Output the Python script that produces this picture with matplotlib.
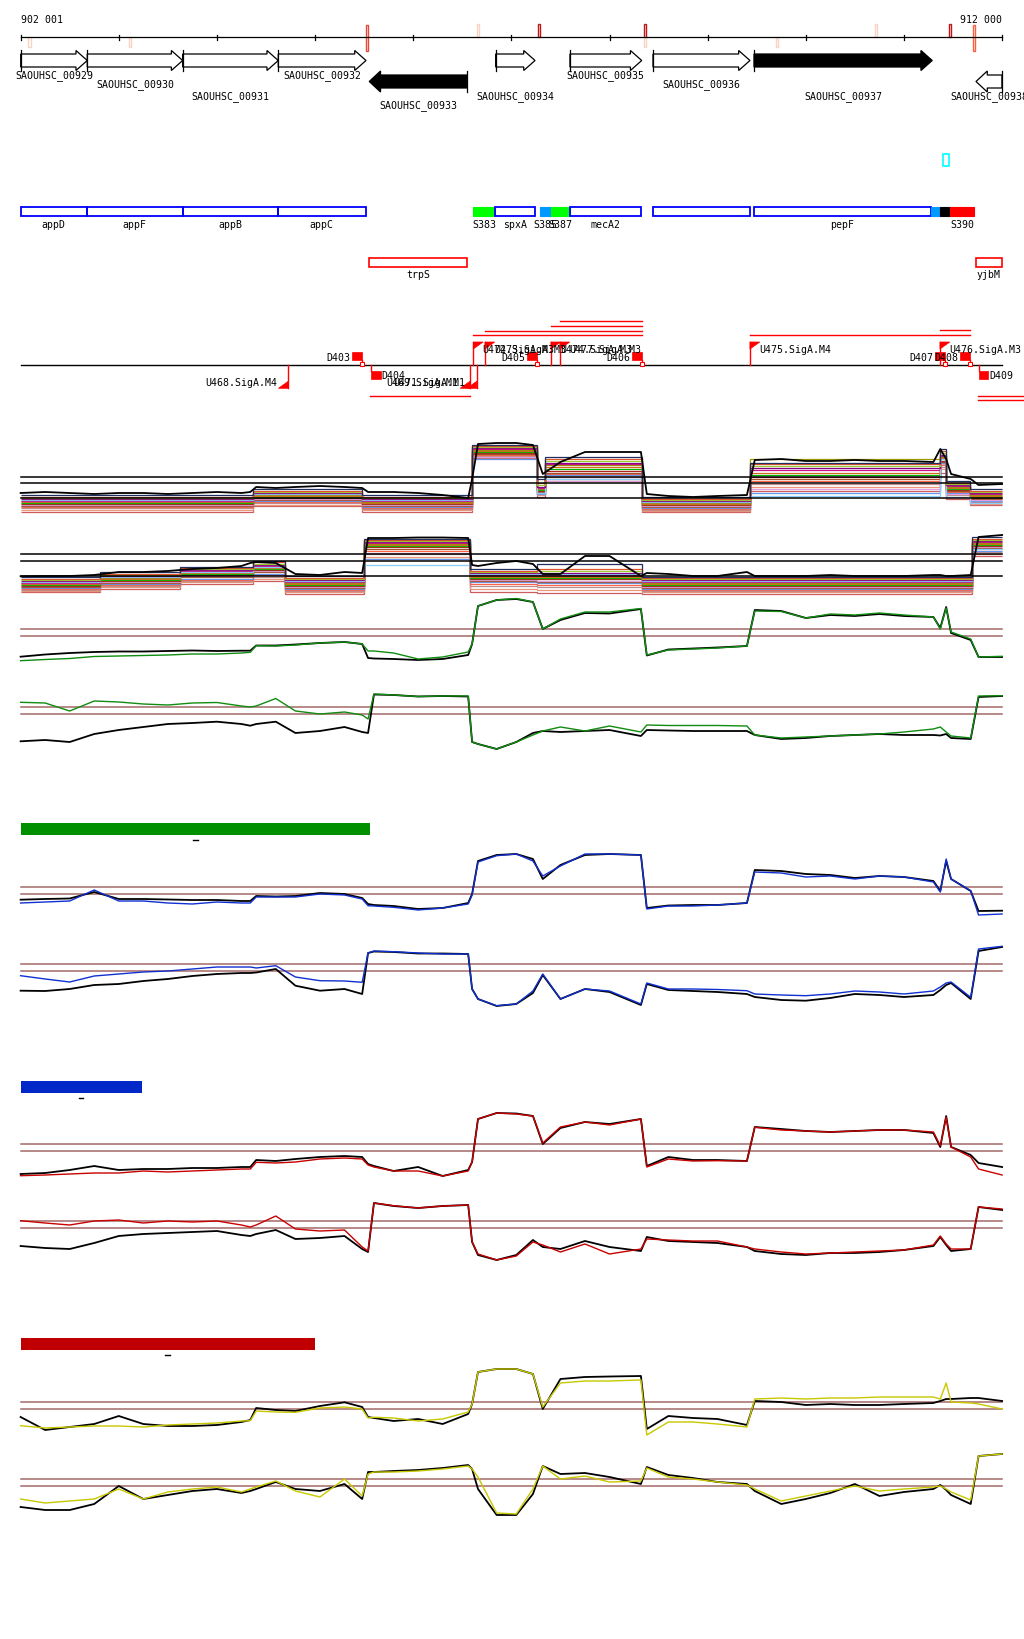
import matplotlib
matplotlib.use("Agg")
import matplotlib.pyplot as plt
from matplotlib.patches import Polygon, Rectangle

# ---------------------------------------------------------------- data
region_start, region_end = 902001, 912000
ruler_ticks = [902001] + list(range(903000, 912001, 1000))
ruler_labels = ["902 001", "912 000"]

mark_pos = [902089, 903114, 905532, 906660, 907284, 908361, 908361, 909706, 910715, 911466, 911713]
mark_side = ["below", "below", "both", "above", "above", "above", "below", "below", "above", "above", "both"]
mark_color = ["#F9D4C6", "#F9D4C6", "#E8483A", "#F9D4C6", "#C01818", "#C01818",
              "#F9D4C6", "#F9D4C6", "#F9D4C6", "#C01818", "#F86040"]

gene_names = ["SAOUHSC_00929", "SAOUHSC_00930", "SAOUHSC_00931", "SAOUHSC_00932", "SAOUHSC_00933",
              "SAOUHSC_00934", "SAOUHSC_00935", "SAOUHSC_00936", "SAOUHSC_00937", "SAOUHSC_00938"]
gene_start = [902001, 902679, 903651, 904625, 905552, 906840, 907597, 908443, 909472, 911734]
gene_end = [902679, 903651, 904625, 905519, 906545, 907241, 908328, 909431, 911288, 911998]
gene_strand = ["+", "+", "+", "+", "-", "+", "+", "+", "+", "-"]
gene_highlight = [0, 0, 0, 0, 1, 0, 0, 0, 1, 0]

cyan_site = (911397, 911459)

feat_names = ["appD", "appF", "appB", "appC", "S383", "spxA", "S385", "S387", "mecA2", "",
              "pepF", "", "", "S390"]
feat_start = [902001, 902673, 903651, 904619, 906612, 906833, 907291, 907403, 907594, 908443,
              909469, 911275, 911367, 911469]
feat_end = [902673, 903651, 904619, 905516, 906833, 907237, 907403, 907594, 908324, 909431,
            911275, 911367, 911469, 911717]
feat_kind = ["CDS", "CDS", "CDS", "CDS", "green", "CDS", "blue", "green", "CDS", "CDS",
             "CDS", "blue", "black", "red"]

anti_names = ["trpS", "yjbM"]
anti_start = [905549, 911730]
anti_end = [906545, 912001]

term_names = ["D403", "D404", "D405", "D406", "D407", "D408", "D409"]
term_pos = [905475, 905567, 907258, 908334, 911418, 911673, 911761]
term_strand = ["+", "-", "+", "+", "+", "+", "-"]

prom_names = ["U468.SigA.M4", "U469.SigA.M1", "U471.SigA.M1", "U472.SigA.M3", "U473.SigA.M3",
              "U474.SigA.M3", "U477.SigA.M3", "U475.SigA.M4", "U476.SigA.M3"]
prom_pos = [904727, 906578, 906647, 906612, 906731, 907403, 907495, 909431, 911367]
prom_strand = ["-", "-", "-", "+", "+", "+", "+", "+", "+"]

tx_start = [906612, 906731, 907403, 907495, 909431, 911367, 905560, 911754, 911754]
tx_end = [908334, 908334, 908334, 908334, 911673, 911673, 906578, 912400, 912400]

bar_start = 902000
bar_end = [905560, 903234, 904997]

# profile positions (bp)
pos = [902000, 902250, 902500, 902750, 903000, 903250, 903500, 903750, 904000, 904250,
       904340, 904400, 904600, 904800, 905050, 905300, 905480, 905540, 905600, 905800,
       906050, 906300, 906560, 906600, 906660, 906850, 907050, 907220, 907320, 907500,
       907750, 908000, 908320, 908380, 908600, 908850, 909100, 909400, 909480, 909750,
       910000, 910250, 910500, 910750, 911000, 911300, 911370, 911430, 911480, 911680,
       911760, 912000]

G3 = [3.3, 4.5, 5.5, 7.5, 8, 8.5, 9, 10, 10, 11,
      11.7, 18.3, 18, 19, 21, 22, 20, 13, 13, 11,
      5, 7, 12, 20, 58, 64, 65.5, 62, 35, 45,
      52, 52, 55.5, 9, 14, 15, 16, 18, 53, 52.5,
      46, 50, 49, 51, 49, 47, 35, 56, 32, 25,
      7, 7.7]
K3 = [7.3, 9.5, 11, 12, 12.5, 12.5, 13, 13.5, 13, 13.3,
      13.3, 18.5, 18.5, 19.5, 21, 22, 20, 6, 5.5, 5,
      4, 5, 9, 20, 58, 64, 65, 62, 35, 44,
      51, 50.5, 55, 8.5, 14.5, 15.5, 16.5, 18, 54, 53,
      46, 49, 48, 50, 48, 47, 36, 57, 31, 24,
      7, 7]
G4 = [51.7, 51, 43, 53, 52, 50, 49, 51, 51.5, 48,
      47, 48, 55.5, 43, 40, 42, 39, 35, 60, 59,
      57.5, 58, 58, 12, 10, 5, 12, 19, 23, 27,
      23, 28, 22, 29, 28.5, 28.5, 28.5, 28, 19, 16,
      17, 18, 19, 20, 22, 25, 27, 22, 18, 16,
      58, 58.3]
K4 = [12.7, 14, 12, 20, 24, 27, 30, 31, 32.3, 30,
      28.3, 30, 32.3, 21, 23, 27, 22, 21, 59.5, 59,
      57.5, 58, 57.5, 12, 10, 5, 12, 21, 23, 22,
      23, 24, 18, 24, 23.5, 23, 23, 23, 19, 15,
      16, 18, 19, 20, 19, 19, 18.5, 20, 16, 15,
      57, 58]
B5 = [16, 17, 18, 29, 18, 18, 16, 15, 17, 16,
      16, 22, 22, 22, 25, 24, 20, 13.3, 13, 11.7,
      9, 11, 15, 24, 57, 63.3, 65, 58, 43, 53,
      65, 65, 64, 10, 13, 13, 14, 16, 47, 46,
      42, 43, 40, 43, 42, 37, 27, 60, 40, 28.3,
      4, 5]
K5 = [19.3, 20, 20.5, 27, 20, 20, 19.5, 19, 19, 18,
      18, 23, 22.5, 23, 26, 25, 21, 15, 14, 13,
      10, 11, 16, 25, 58, 64, 65, 60, 40, 54,
      64, 65, 64, 11, 13.5, 14, 14, 16, 49, 48,
      45, 44, 41, 43, 42, 38, 28, 58, 40, 28,
      8, 8.3]
B6 = [35.3, 32, 29, 35, 37, 39, 40, 42, 44, 44,
      44, 43, 45.3, 34, 30.3, 30, 28.7, 58, 60, 59.3,
      58, 57, 57, 22, 12, 5.3, 7, 20, 37, 12,
      22, 20, 7, 28, 22, 22, 21.5, 20.3, 17, 16,
      15.3, 17, 20, 19, 17, 20, 24, 28, 29, 13.7,
      62, 64.7]
K6 = [20.3, 20, 22, 26, 27, 30, 32, 35, 37, 38,
      38, 38.5, 42, 25.3, 20.3, 22, 17, 58, 59.5, 59,
      57.5, 57.5, 57, 22, 12, 5, 7, 18, 36, 12,
      22, 19, 6, 27, 21, 20, 19, 17, 14, 11,
      10.3, 13, 17, 16, 14, 16, 21, 26, 28, 12,
      60, 64]
R7 = [5.3, 6, 7, 8, 8, 10, 9, 10, 11, 12,
      12, 18.7, 18, 19, 22, 23, 22, 16, 14, 10,
      10, 5, 10, 19, 62, 68, 67, 65, 38, 54,
      59, 56, 62, 14, 22, 20, 20.3, 20, 53.7, 51,
      50, 49, 50, 51, 51, 49, 35.3, 64, 34, 24,
      12, 6]
K7 = [7, 8, 11, 15, 11, 12, 12, 13, 13, 14,
      14, 21, 20, 22, 24, 25, 24, 17, 15, 10,
      14, 5, 11, 19, 62, 68, 67.5, 65, 37, 53,
      59, 57, 62, 15, 24, 21, 21, 20, 54, 52,
      50, 49, 50, 51, 51, 48, 34, 65, 34, 26,
      18, 14]
R8 = [46.3, 44, 42, 46, 47, 44, 46, 45, 46, 42,
      40, 42, 51, 38, 36, 37, 20, 16, 64, 61.3,
      59, 61, 62, 25, 13, 7, 11, 25, 22, 15,
      23, 13, 18, 28, 27, 26, 26, 20, 18, 15,
      13, 14, 15, 16, 17, 22, 31, 23, 18, 18,
      60, 58]
K8 = [21, 19, 18, 24, 31, 33, 34, 35, 36, 32,
      31, 33, 37, 28, 29, 31, 18, 15, 64, 61,
      59, 61, 62, 25, 12, 7, 12, 27, 20, 18,
      26, 20, 16, 30, 26, 25, 24, 20, 16, 13,
      12, 14, 14, 15, 17, 21, 30, 22, 16, 18,
      60, 57]
Y9 = [15.3, 13, 14, 15, 15, 14, 16, 17, 18, 20,
      20.3, 30, 29, 28.7, 33, 34, 32, 23, 23.7, 23,
      20, 22, 29, 37, 69, 72, 72, 67, 34, 58,
      60, 60, 61, 6, 19, 19, 17, 14, 42, 43,
      42, 43, 43, 44, 44, 44, 42, 58, 39, 38,
      37, 32]
K9 = [24, 11, 14, 17, 25, 17, 15, 15, 16, 19,
      21, 33, 31, 30, 35, 38.7, 34, 24, 23, 20,
      22, 17, 27, 37, 69, 72, 72, 67, 32, 62,
      64, 64.5, 65, 12, 25, 23, 22, 16, 40, 39,
      36, 37, 36, 36, 37, 38, 40, 42, 42, 43,
      43, 40]
Y10 = [22, 18, 20, 22, 32, 22, 29, 32, 34, 29,
       32, 34, 40, 30, 24, 42, 25, 47, 49, 49,
       50, 52, 55, 52, 44, 8, 7, 32, 55, 42,
       45, 39, 40, 53, 44, 42, 39, 36, 32, 20,
       25, 30, 35, 30, 32, 34, 35, 32, 29, 21,
       65, 67]
K10 = [14, 11, 11, 17, 35, 22, 26, 30, 32, 28,
       30, 32, 39, 32, 30, 37, 22, 49, 49, 50,
       51, 53, 56, 52, 32, 6, 6, 27, 55, 47,
       48, 44, 37, 54, 46, 43, 39, 37, 30, 17,
       22, 28, 37, 25, 29, 32, 36, 31, 26, 17,
       65, 67]

thr3, thr4 = [34.7, 27.7], [46.7, 39.7]
thr5, thr6 = [31.7, 24.7], [46.7, 39.7]
thr7, thr8 = [36.7, 29.7], [45.7, 38.7]
thr9, thr10 = [38.7, 31.7], [41.7, 34.7]

# multi-sample tracks: top (black) sample on the profile grid
band1_top = [26, 27, 26, 25, 26, 26, 25, 26, 27, 26,
             27, 32, 31, 32, 33, 32, 31, 27, 27, 27,
             26, 24, 21, 40, 75, 76, 76, 74, 45, 57,
             67, 67, 67, 25, 23, 22, 23, 24, 59, 60,
             58, 58, 59, 58, 58, 57, 70, 60, 45, 40,
             34, 35]
band2_top = [22.7, 23, 23, 24, 27, 27, 28, 30, 31, 33,
             36, 37, 36, 25, 24, 27, 26, 61, 61, 61,
             61.5, 61.5, 61, 34, 33, 36, 38, 35, 25, 25,
             43, 43, 23, 26, 25, 23, 23, 27, 23, 23,
             23, 24, 23, 23, 23, 24, 24, 23, 23, 24,
             62, 64]

# other samples: segment edges (bp) and per-sample segment levels
band1_edges = [902000, 904370, 905480, 906600, 907260, 907340, 908330, 909430, 911370,
               911430, 911670, 912000]
band1_levels = [
    [24, 30, 24, 74, 40, 62, 22, 56, 70, 38, 30],
    [22, 28, 22, 73, 36, 60, 20, 55, 68, 36, 28],
    [21, 27, 21, 72, 34, 58, 19, 53, 66, 35, 27],
    [20, 26, 20, 71, 32, 56, 18, 51, 64, 34, 26],
    [19, 25, 19, 43, 26, 40, 17, 23, 60, 22, 16],
    [18, 25, 18, 70, 31, 55, 17, 49, 63, 33, 25],
    [18, 24, 17, 69, 30, 54, 16, 60, 62, 32, 24],
    [17, 23, 16, 68, 30, 52, 15, 46, 61, 31, 23],
    [16, 22, 16, 67, 29, 50, 15, 44, 60, 30, 22],
    [15, 21, 15, 66, 28, 48, 14, 42, 58, 29, 21],
    [14, 20, 14, 62, 26, 38, 13, 30, 55, 25, 19],
    [13, 19, 13, 65, 27, 46, 12, 40, 57, 28, 20],
    [13, 18, 12, 60, 25, 44, 11, 26, 56, 26, 18],
    [12, 17, 11, 64, 26, 45, 10, 38, 54, 27, 18],
    [11, 16, 10, 63, 25, 42, 9, 35, 52, 24, 17],
    [9, 14, 9, 62, 24, 40, 8, 32, 50, 22, 15],
    [7, 13, 7, 61, 22, 38, 7, 28, 46, 20, 14],
]
band2_edges = [902000, 902810, 903625, 904370, 904695, 905500, 906580, 907260, 908330,
               911690, 912000]
band2_levels = [
    [22, 27, 32, 38, 23, 60, 30, 35, 22, 62],
    [20, 25, 31, 37, 21, 59, 28, 30, 21, 60],
    [19, 24, 30, 35, 20, 58, 27, 28, 20, 59],
    [18, 23, 29, 34, 19, 57, 26, 26, 19, 58],
    [17, 22, 27, 32, 18, 34, 25, 25, 18, 50],
    [16, 22, 28, 33, 17, 56, 24, 24, 17, 57],
    [16, 21, 27, 32, 16, 55, 23, 23, 16, 56],
    [15, 20, 26, 31, 15, 54, 22, 22, 15, 55],
    [14, 19, 25, 30, 14, 53, 21, 21, 14, 54],
    [13, 18, 24, 29, 13, 52, 20, 20, 13, 53],
    [13, 17, 23, 28, 12, 46, 19, 18, 12, 52],
    [12, 16, 22, 27, 11, 50, 18, 17, 11, 51],
    [11, 15, 20, 25, 10, 40, 17, 16, 10, 48],
    [10, 14, 19, 24, 9, 48, 15, 14, 9, 50],
    [9, 13, 18, 22, 8, 45, 13, 12, 8, 47],
    [8, 12, 17, 20, 7, 42, 10, 9, 7, 45],
    [7, 10, 15, 18, 5, 40, 7, 6, 5, 43],
]
thr_band1 = [41.7, 35.7, 20.7]
thr_band2 = [44.7, 37.7, 22.7]

# ---------------------------------------------------------------- style / layout
band_colors = ["#1F2F5F", "#E0522B", "#9ACD32", "#8B008B", "#87CEFA", "#C71585",
               "#999900", "#D2691E", "#00B400", "#B22222", "#DDA0DD", "#A0522D", "#6495ED",
               "#FF6347", "#BC8F8F", "#E9967A", "#CD5C5C"]
kind_color = {"green": "#00FF00", "blue": "#0099FF", "black": "#000000", "red": "#FF0000"}
gene_label_y = [76, 85, 97, 76, 106, 97, 76, 85, 97, 97]
tx_y = [336, 331.7, 326.7, 322.3, 336, 331.3, 397.3, 396.7, 400.7]
bar_colors = ["#009000", "#0028C8", "#C00000"]
bar_y = [824, 1082, 1339]
THR_C = "#A46A6A"
FS = 7.1
W, H = 1024, 1640
XL = (901790, 912223)

plt.rcParams["font.family"] = ["DejaVu Sans Mono"]
fig = plt.figure(figsize=(W / 100, H / 100), dpi=100)


def make_axes(top, bottom, ylim):
    ax = fig.add_axes([0, 1 - bottom / H, 1, (bottom - top) / H])
    ax.set_xlim(*XL)
    ax.set_ylim(*ylim)
    ax.axis("off")
    return ax


ann = make_axes(0, H, (H, 0))

# ruler
ann.plot([region_start, region_end], [38, 38], color="black", lw=0.9)
for t in ruler_ticks:
    ann.plot([t, t], [35.5, 40.5], color="black", lw=0.9)
ann.text(region_start, 20, ruler_labels[0], ha="left", va="center", fontsize=FS)
ann.text(region_end, 20, ruler_labels[1], ha="right", va="center", fontsize=FS)
side_y = {"above": (25, 38), "below": (38, 48), "both": (26, 52)}
for p, sd, c in zip(mark_pos, mark_side, mark_color):
    y0, y1 = side_y[sd]
    ann.add_patch(Rectangle((p - 12, y0), 24, y1 - y0, fill=False, ec=c, lw=1.0))

# genes
HL = 115
for name, s, e, st, hl, ly in zip(gene_names, gene_start, gene_end, gene_strand,
                                   gene_highlight, gene_label_y):
    fc = "black" if hl else "white"
    if st == "+":
        yc = 61.5
        pts = [(s, yc - 6.5), (e - HL, yc - 6.5), (e - HL, yc - 10), (e, yc),
               (e - HL, yc + 10), (e - HL, yc + 6.5), (s, yc + 6.5)]
        base = s
    else:
        yc = 82.5
        pts = [(e, yc - 6.5), (s + HL, yc - 6.5), (s + HL, yc - 10.5), (s, yc),
               (s + HL, yc + 10.5), (s + HL, yc + 6.5), (e, yc + 6.5)]
        base = e
    ann.add_patch(Polygon(pts, closed=True, fc=fc, ec="black", lw=0.9))
    ann.plot([base, base], [yc - 10.5, yc + 10.5], color="black", lw=0.9)
    ann.text((s + e) / 2, ly, name, ha="center", va="center", fontsize=FS)

# cyan site
ann.add_patch(Rectangle((cyan_site[0], 155), cyan_site[1] - cyan_site[0], 12,
                        fill=False, ec="#00FFFF", lw=1.2))

# feature boxes
for n, s, e, k in zip(feat_names, feat_start, feat_end, feat_kind):
    if k == "CDS":
        ann.add_patch(Rectangle((s, 207.5), e - s, 9.5, fill=False, ec="#0000FF", lw=1.3))
    else:
        ann.add_patch(Rectangle((s, 207.5), e - s, 9.5, fc=kind_color[k], ec=kind_color[k], lw=0.8))
    if n:
        ann.text((s + e) / 2, 224.5, n, ha="center", va="center", fontsize=FS)

for n, s, e in zip(anti_names, anti_start, anti_end):
    ann.add_patch(Rectangle((s, 258.5), e - s, 9.5, fill=False, ec="#FF0000", lw=1.2))
    ann.text((s + e) / 2, 275.5, n, ha="center", va="center", fontsize=FS)

# promoter / terminator track
BASE = 366.3
ann.plot([region_start, region_end], [BASE, BASE], color="black", lw=1.0)
for s, e, y in zip(tx_start, tx_end, tx_y):
    ann.plot([s, e], [y, y], color="#FF0000", lw=1.0)
SQ = 100
for n, p, st in zip(term_names, term_pos, term_strand):
    if st == "+":
        ann.add_patch(Rectangle((p - SQ, 353), SQ, 8, fc="#FF0000", ec="#FF0000", lw=0.5))
        ann.plot([p, p], [361, BASE], color="#FF0000", lw=1.0)
        ann.plot([p], [BASE - 1.5], marker="s", ms=3, mfc="white", mec="#FF0000", mew=0.8)
        ann.text(p - SQ - 18, 358, n, ha="right", va="center", fontsize=FS)
    else:
        ann.add_patch(Rectangle((p, 371.5), SQ, 8, fc="#FF0000", ec="#FF0000", lw=0.5))
        ann.plot([p, p], [BASE, 371.5], color="#FF0000", lw=1.0)
        ann.text(p + SQ + 5, 376, n, ha="left", va="center", fontsize=FS)
FL = 100
for n, p, st in zip(prom_names, prom_pos, prom_strand):
    if st == "+":
        ann.plot([p, p], [BASE, 343], color="#FF0000", lw=1.0)
        ann.add_patch(Polygon([(p, 343), (p + FL, 343), (p, 350)], fc="#FF0000", ec="#FF0000", lw=0.5))
        ann.text(p + 92, 350, n, ha="left", va="center", fontsize=FS)
    else:
        ann.plot([p, p], [BASE, 389.3], color="#FF0000", lw=1.0)
        ann.add_patch(Polygon([(p, 389.3), (p - FL, 389.3), (p, 382.3)], fc="#FF0000", ec="#FF0000", lw=0.5))
        ann.text(p - 115, 383, n, ha="right", va="center", fontsize=FS)

# scale bars
for c, e, y in zip(bar_colors, bar_end, bar_y):
    ann.add_patch(Rectangle((bar_start, y), e - bar_start, 11.5, fc=c, ec="none"))
    mid = (bar_start + e) / 2
    ann.plot([mid - 23, mid + 23], [y + 17, y + 17], color="black", lw=1.0)


# multi-sample tracks
def band_track(top, bottom, edges, levels, top_line, thr):
    ax = make_axes(top, bottom, (0, bottom - top))
    for lv, c in reversed(list(zip(levels, band_colors))):
        ax.stairs(lv, edges, baseline=None, color=c, lw=0.9)
    ax.plot(pos, top_line, color="black", lw=1.3)
    for t in thr:
        ax.plot([region_start, region_end], [t, t], color="black", lw=1.1)
    return ax


band_track(430, 520, band1_edges, band1_levels, band1_top, thr_band1)
band_track(520, 600, band2_edges, band2_levels, band2_top, thr_band2)


def profile_track(top, bottom, black, coloured, colour, thr):
    ax = make_axes(top, bottom, (0, bottom - top))
    for t in thr:
        ax.plot([region_start, region_end], [t, t], color=THR_C, lw=1.1)
    ax.plot(pos, black, color="black", lw=1.3)
    ax.plot(pos, coloured, color=colour, lw=1.0)
    return ax


profile_track(585, 665, K3, G3, "#108C10", thr3)
profile_track(675, 755, K4, G4, "#108C10", thr4)
profile_track(840, 920, K5, B5, "#1030D0", thr5)
profile_track(932, 1012, K6, B6, "#1030D0", thr6)
profile_track(1102, 1182, K7, R7, "#C80000", thr7)
profile_track(1188, 1268, K8, R8, "#C80000", thr8)
profile_track(1362, 1442, K9, Y9, "#C8C800", thr9)
profile_track(1442, 1522, K10, Y10, "#C8C800", thr10)

fig.savefig("out.png", dpi=100, facecolor="white")
